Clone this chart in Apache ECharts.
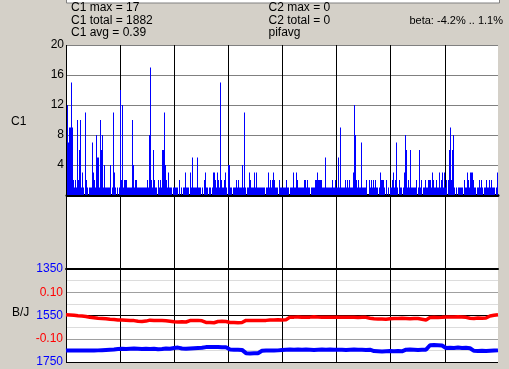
<!DOCTYPE html>
<html><head><meta charset="utf-8">
<script src="https://cdn.jsdelivr.net/npm/echarts@6/dist/echarts.min.js"></script>
<style>html,body{margin:0;padding:0;background:#D4D0C8;}#c{width:509px;height:369px;}</style>
</head><body><div id="c"></div>
<script>
// C1 per-column maxima, left to right (one value per screen column of the plot)
const c1Values = [
12,7,9,9,15,9,2,1,2,1,10,2,6,10,1,3,1,
0,11,2,1,0,1,1,1,7,3,2,1,8,5,5,1,10,6,
8,1,4,1,1,1,1,1,4,0,1,11,3,1,0,1,0,1,
14,2,12,1,2,2,2,1,1,1,1,1,10,4,1,2,2,1,
1,1,1,1,1,1,1,1,1,2,1,8,17,2,1,6,2,1,
1,0,2,1,2,1,6,6,11,4,2,1,3,1,1,1,0,1,
1,1,1,1,0,2,0,1,0,1,1,3,1,1,1,0,3,1,
5,1,1,1,1,5,1,1,1,0,1,0,2,3,1,1,0,1,
1,0,1,3,3,2,1,3,2,1,15,2,1,1,2,3,1,0,
4,4,1,1,0,1,1,1,2,1,2,1,1,1,4,1,11,1,
0,1,1,3,2,1,1,1,3,1,3,1,1,1,1,1,1,1,
1,0,1,1,3,1,2,1,2,3,2,1,1,1,0,2,1,1,
1,1,1,1,2,1,1,0,1,1,1,3,1,1,3,2,1,1,
1,1,1,1,2,2,1,2,1,1,0,1,1,1,1,2,2,3,
2,2,2,2,1,1,1,5,1,1,1,1,1,1,2,1,1,2,
1,1,5,1,9,1,1,1,1,2,1,2,1,2,1,1,1,3,
12,8,2,1,2,1,1,7,1,1,1,1,2,0,0,2,1,2,
1,2,1,2,1,1,0,1,3,2,2,2,1,0,2,0,1,0,
1,1,2,3,1,2,7,1,0,2,1,1,0,1,3,8,6,1,
2,1,6,1,1,1,1,1,2,0,1,6,1,2,0,1,1,2,
1,1,2,2,2,1,3,2,1,1,2,1,1,3,1,2,3,1,
3,1,2,0,2,6,9,2,6,8,1,0,1,0,1,1,1,1,
1,0,2,1,1,3,2,1,3,3,3,2,1,1,0,1,1,2,
1,2,1,0,1,1,2,1,1,2,1,2,1,1,1,0,1,3
];
// B/J panel: red (beta) and blue (J) traces, sampled left to right
const redValues = [
0.003,0.002,0.001,-0.001,-0.002,-0.004,-0.008,-0.010,-0.012,-0.013,
-0.014,-0.016,-0.017,-0.019,-0.019,-0.020,-0.021,-0.022,-0.025,-0.026,
-0.024,-0.020,-0.021,-0.022,-0.022,-0.023,-0.025,-0.027,-0.028,-0.027,
-0.028,-0.022,-0.022,-0.021,-0.023,-0.030,-0.030,-0.031,-0.026,-0.025,
-0.026,-0.030,-0.030,-0.031,-0.030,-0.021,-0.021,-0.022,-0.021,-0.022,
-0.021,-0.019,-0.019,-0.018,-0.019,-0.018,-0.007,-0.007,-0.006,-0.008,
-0.007,-0.007,-0.005,-0.007,-0.008,-0.007,-0.007,-0.008,-0.007,-0.007,
-0.008,-0.007,-0.008,-0.009,-0.008,-0.008,-0.012,-0.014,-0.015,-0.015,
-0.016,-0.014,-0.013,-0.013,-0.012,-0.013,-0.014,-0.013,-0.013,-0.016,
-0.019,-0.009,-0.008,-0.009,-0.008,-0.006,-0.006,-0.006,-0.005,-0.006,
-0.008,-0.012,-0.013,-0.011,-0.012,-0.011,-0.002,0.001,0.003
];
const blueValues = [
1701,1700,1701,1700,1701,1700,1700,1701,1700,1699,
1698,1697,1696,1694,1693,1694,1693,1692,1693,1694,
1693,1694,1693,1695,1694,1692,1693,1690,1688,1692,
1693,1692,1691,1690,1689,1686,1685,1686,1686,1687,
1687,1696,1697,1697,1698,1712,1713,1712,1712,1702,
1701,1700,1701,1700,1698,1697,1696,1697,1696,1697,
1696,1697,1698,1697,1696,1697,1696,1697,1697,1697,
1698,1697,1696,1697,1697,1698,1697,1703,1704,1705,
1704,1703,1704,1703,1704,1697,1696,1697,1698,1697,
1697,1678,1677,1678,1679,1690,1689,1690,1688,1690,
1689,1691,1702,1703,1702,1703,1702,1701,1700
];
// column positions of the vertical period dividers
const dividerPositions = [0, 54, 108, 162, 216, 270, 324, 379];
const c1Ticks = [4, 8, 12, 16, 20];
const redTicks = [0.10, -0.10];
const blueTicks = [1350, 1550, 1750];
const headerLeft = ['C1 max = 17', 'C1 total = 1882', 'C1 avg = 0.39'];
const headerMid = ['C2 max = 0', 'C2 total = 0', 'pifavg'];
const betaText = 'beta: -4.2% .. 1.1%';
const panelLabels = ['C1', 'B/J'];

const FF = '"Liberation Sans", Arial, sans-serif';
const chart = echarts.init(document.getElementById('c'), null, {renderer: 'canvas'});
const c1Cats = c1Values.map((_, i) => i);
const lineCats = redValues.map((_, i) => i);
const rowY = [7.5, 20.5, 33];

const graphics = [
  {type: 'rect', shape: {x: 66.5, y: -5, width: 433, height: 8}, style: {fill: '#fff', stroke: '#808080', lineWidth: 1}}
];
headerLeft.forEach((t, i) => graphics.push({type: 'text', x: 71, y: rowY[i], style: {text: t, font: '12px ' + FF, fill: '#000', verticalAlign: 'middle', align: 'left'}}));
headerMid.forEach((t, i) => graphics.push({type: 'text', x: 268.5, y: rowY[i], style: {text: t, font: '12px ' + FF, fill: '#000', verticalAlign: 'middle', align: 'left'}}));
graphics.push({type: 'text', x: 503, y: rowY[1], style: {text: betaText, font: '11px ' + FF, fill: '#000', verticalAlign: 'middle', align: 'right'}});
graphics.push({type: 'text', x: 11, y: 121.5, style: {text: panelLabels[0], font: '12px ' + FF, fill: '#000', verticalAlign: 'middle', align: 'left'}});
graphics.push({type: 'text', x: 12, y: 312.5, style: {text: panelLabels[1], font: '12px ' + FF, fill: '#000', verticalAlign: 'middle', align: 'left'}});

const option = {
  backgroundColor: '#D4D0C8',
  animation: false,
  grid: [
    {left: 66, top: 45, width: 432, height: 318, show: true, backgroundColor: '#ffffff', borderWidth: 0, borderColor: 'rgba(0,0,0,0)'},
    {left: 67, top: 45, width: 431, height: 150},
    {left: 66, top: 269, width: 432, height: 93}
  ],
  xAxis: [
    {gridIndex: 0, type: 'value', min: 0, max: 432,
     axisLine: {show: false}, axisTick: {show: false}, axisLabel: {show: false}, splitLine: {show: false}},
    {gridIndex: 1, type: 'category', data: c1Cats,
     axisLine: {show: true, onZero: false, lineStyle: {color: '#000', width: 3}},
     axisTick: {show: false}, axisLabel: {show: false}, splitLine: {show: false}},
    {gridIndex: 2, type: 'category', data: lineCats, boundaryGap: false, position: 'top',
     axisLine: {show: true, onZero: false, lineStyle: {color: '#000', width: 2}},
     axisTick: {show: false}, axisLabel: {show: false}, splitLine: {show: false}}
  ],
  yAxis: [
    {gridIndex: 0, type: 'value', show: false, min: 0, max: 1, splitLine: {show: false}},
    {gridIndex: 1, type: 'value', min: 0, max: 20, interval: 4,
     axisLine: {show: false}, axisTick: {show: false},
     axisLabel: {margin: 3, color: '#000', fontSize: 12, fontFamily: FF,
       formatter: v => c1Ticks.includes(v) ? String(v) : ''},
     splitLine: {show: true, lineStyle: {color: '#808080', width: 1}}},
    {gridIndex: 2, type: 'value', min: -0.2, max: 0.2, interval: 0.05, position: 'left',
     axisLine: {show: false}, axisTick: {show: false},
     axisLabel: {margin: 3, color: '#ff0000', fontSize: 12, fontFamily: FF,
       formatter: v => redTicks.some(t => Math.abs(t - v) < 1e-9) ? v.toFixed(2) : ''},
     splitLine: {show: true, lineStyle: {width: 1,
       color: ['#000000','#dcdcdc','#a0a0a0','#dcdcdc','#000000','#dcdcdc','#a0a0a0','#dcdcdc','#000000']}}},
    {gridIndex: 2, type: 'value', inverse: true, min: 1350, max: 1750, interval: 50, position: 'left',
     axisLine: {show: false}, axisTick: {show: false}, splitLine: {show: false},
     axisLabel: {margin: 3, color: '#0000ff', fontSize: 12, fontFamily: FF,
       formatter: v => blueTicks.includes(v) ? String(v) : ''}}
  ],
  series: [
    {type: 'custom', xAxisIndex: 0, yAxisIndex: 0, silent: true, z: 1,
     data: dividerPositions.map(p => [p]),
     encode: {x: 0},
     renderItem: function (params, api) {
       const v = api.value(0);
       const top = api.coord([v, 1]);
       const bot = api.coord([v, 0]);
       const x = Math.round(top[0]) + 0.5;
       return {type: 'line', shape: {x1: x, y1: top[1], x2: x, y2: bot[1]},
               style: {stroke: '#000', lineWidth: 1}};
     }},
    {type: 'bar', xAxisIndex: 1, yAxisIndex: 1, data: c1Values, barCategoryGap: '0%', barGap: '0%',
     itemStyle: {color: '#0000ff'}, silent: true},
    {type: 'line', xAxisIndex: 2, yAxisIndex: 2, data: redValues, symbol: 'none',
     lineStyle: {color: '#ff0000', width: 3.5}, silent: true},
    {type: 'line', xAxisIndex: 2, yAxisIndex: 3, data: blueValues, symbol: 'none',
     lineStyle: {color: '#0000ff', width: 4}, silent: true}
  ],
  graphic: graphics
};
chart.setOption(option);
</script>
</body></html>
